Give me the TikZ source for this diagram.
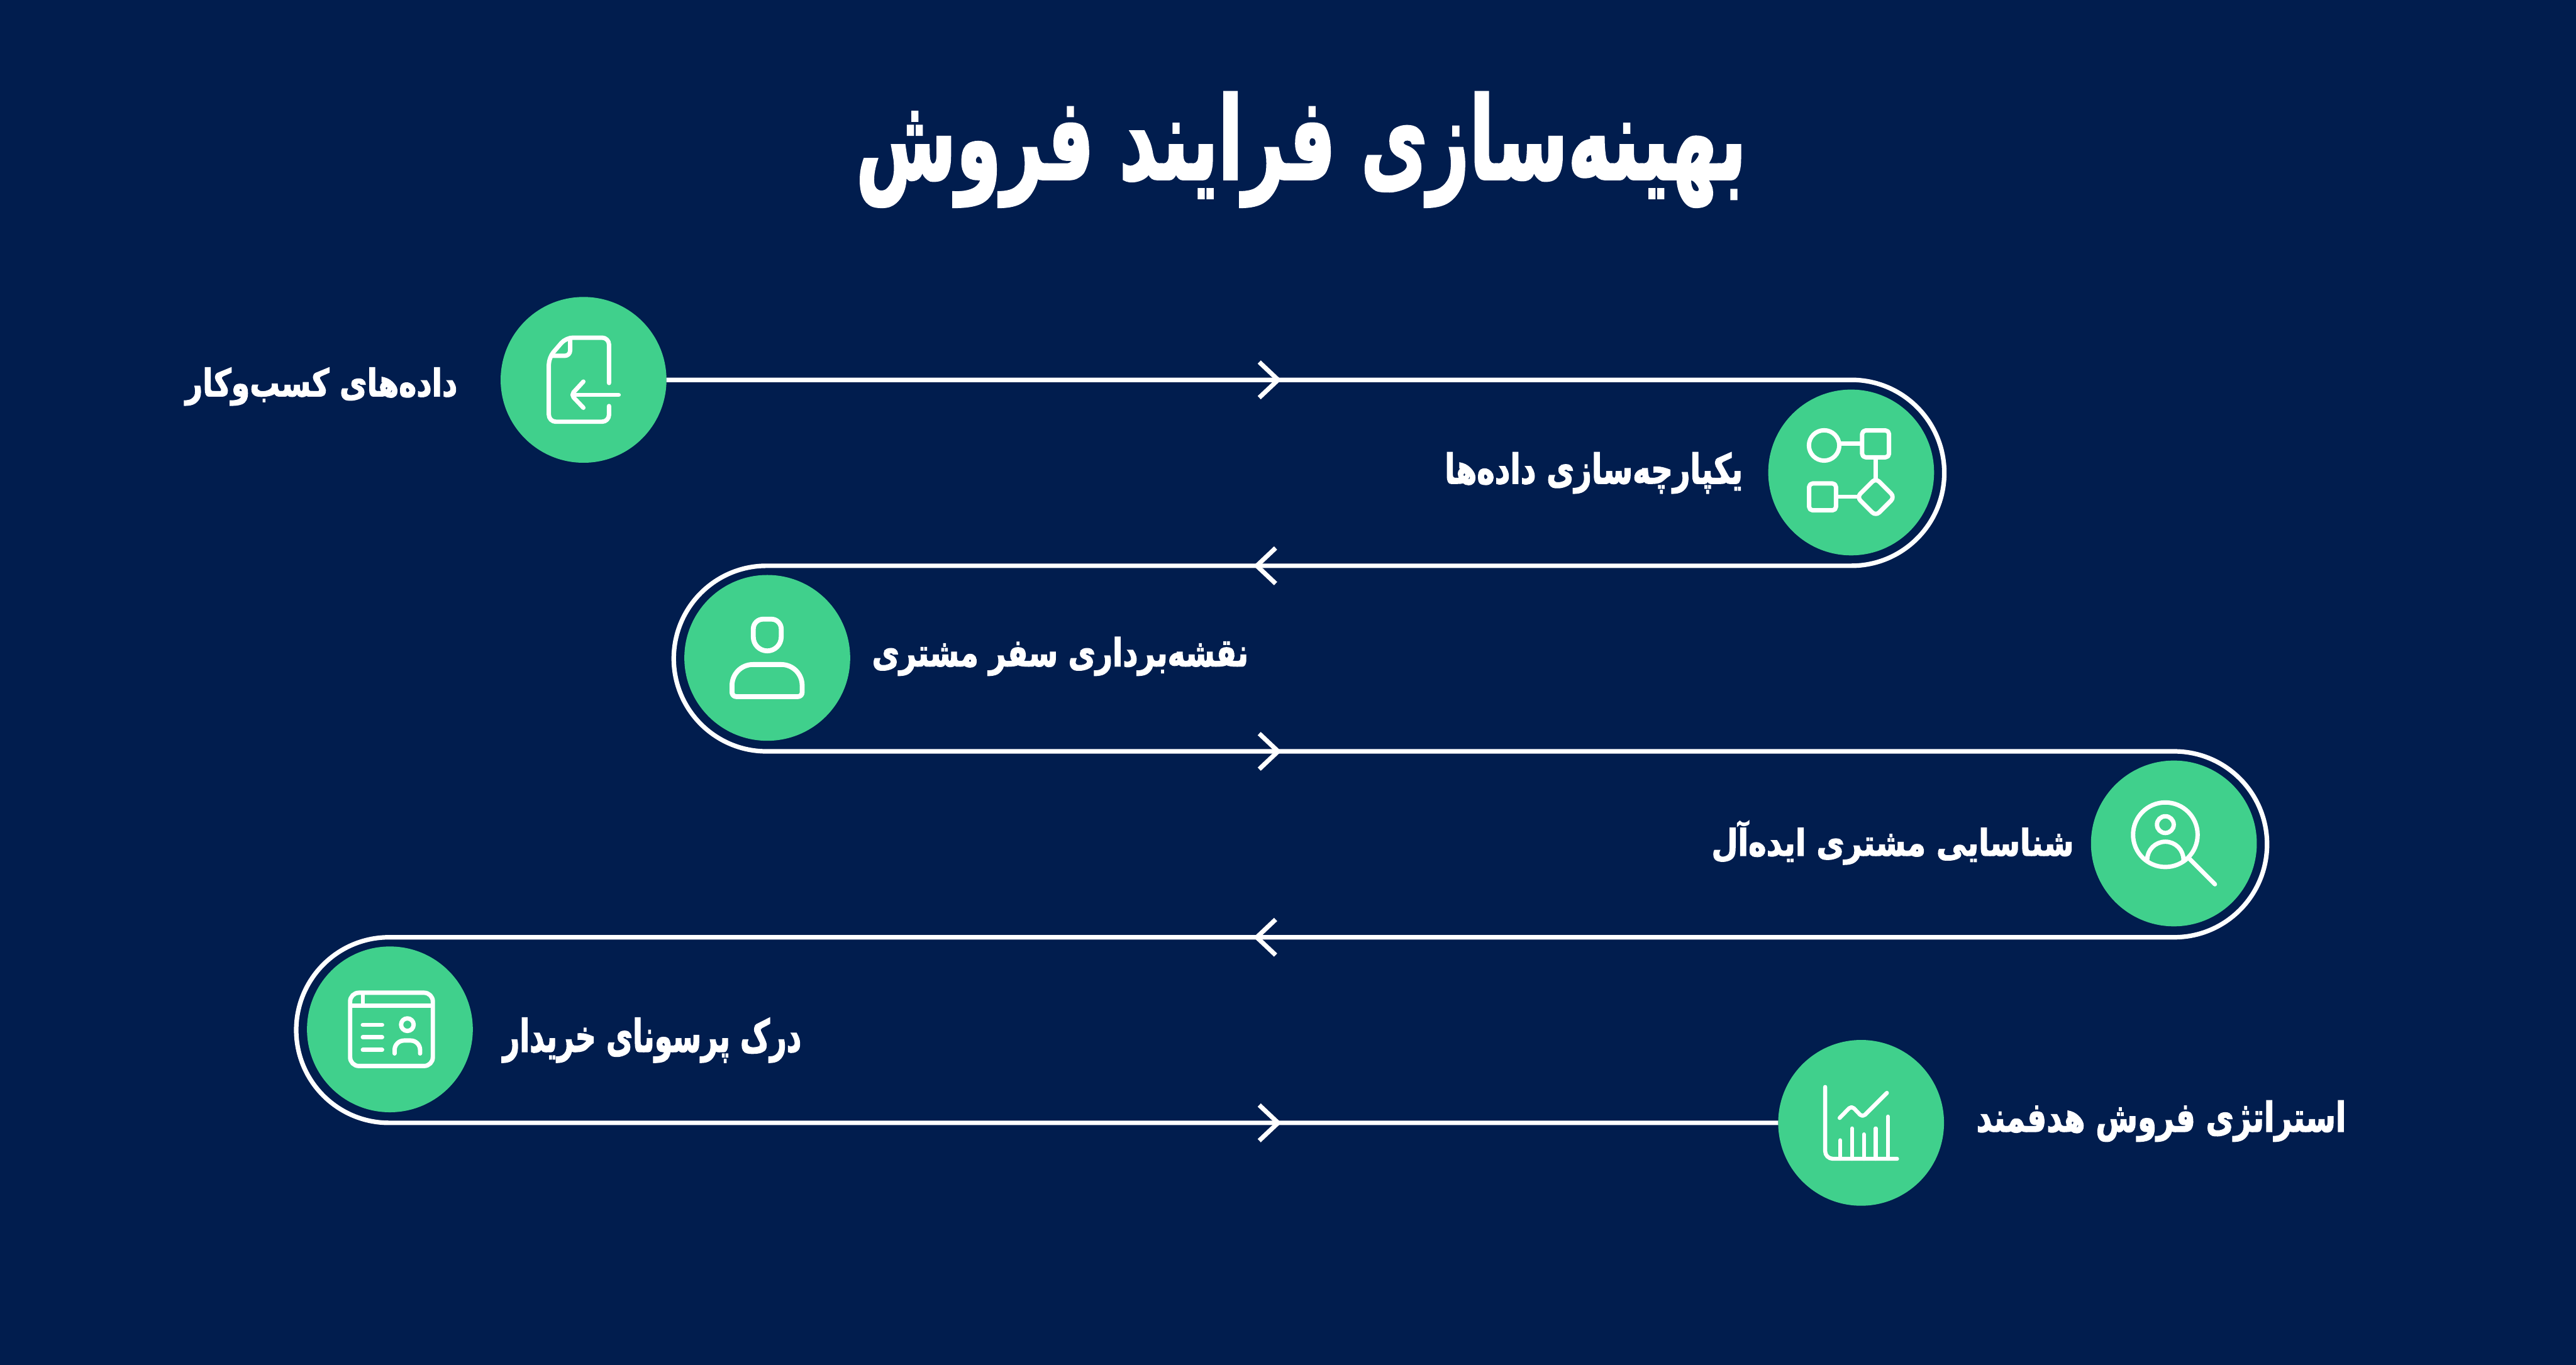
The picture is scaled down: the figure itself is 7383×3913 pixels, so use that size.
\documentclass[tikz,border=0pt]{standalone}
\usepackage{fontspec}
\usepackage{graphicx}
\TeXXeTstate=1
\newfontfamily\arabicfont[Script=Arabic,FakeBold=2.5]{DejaVu Sans Bold}
\definecolor{bgc}{HTML}{011D4E}
\definecolor{grn}{HTML}{40D08C}
\newcommand{\fa}[4]{\resizebox{#1}{#2}{\arabicfont\fontsize{#3}{#3}\selectfont #4}}
\tikzset{
  x=0.01cm,y=-0.01cm,
  stepdot/.style={circle,fill=grn,draw=none,minimum size=4.75cm,inner sep=0pt,outer sep=0pt},
  conn/.style={draw=white,line width=.13cm},
  chev/.style={draw=white,line width=.13cm,miter limit=10},
  ico/.style={draw=white,line width=.125cm,line cap=round,line join=round},
  label/.style={text=white,inner sep=0pt,outer sep=0pt,anchor=base east},
}
\begin{document}
\begin{tikzpicture}
\fill[bgc] (0,0) rectangle (7383,3913);
\useasboundingbox (0,0) rectangle (7383,3913);

% title
\node[label] (title) at (5005,513) {\fa{25.5cm}{2.48cm}{60pt}{\beginR بهینه‌سازی فرایند فروش\endR}};

% step circles
\node[stepdot] (c1) at (1672.5,1089) {};
\node[stepdot] (c2) at (5305.5,1354.5) {};
\node[stepdot] (c3) at (2199,1886) {};
\node[stepdot] (c4) at (6230.5,2418) {};
\node[stepdot] (c5) at (1117.5,2951) {};
\node[stepdot] (c6) at (5334,3219) {};

% serpentine connector turning points
\coordinate (t1) at (5306,1089);
\coordinate (t2) at (2197,1622);
\coordinate (t3) at (6231,2154);
\coordinate (t4) at (1115,2687);
\draw[conn] (c1.east) -- (t1) arc[start angle=-90,end angle=90,radius=266.5]
  -- (t2) arc[start angle=-90,end angle=-270,radius=266]
  -- (t3) arc[start angle=-90,end angle=90,radius=266.5]
  -- (t4) arc[start angle=-90,end angle=-270,radius=266]
  -- (c6.west);

% chevrons
\coordinate (a1) at (3663,1089);
\coordinate (a2) at (3602,1622);
\coordinate (a3) at (3663,2154);
\coordinate (a4) at (3602,2687);
\coordinate (a5) at (3663,3219);
\draw[chev] (a1) ++(-54,-51) -- (a1) -- ++(-54,51);
\draw[chev] (a2) ++(54,-51) -- (a2) -- ++(54,51);
\draw[chev] (a3) ++(-54,-51) -- (a3) -- ++(-54,51);
\draw[chev] (a4) ++(54,-51) -- (a4) -- ++(54,51);
\draw[chev] (a5) ++(-54,-51) -- (a5) -- ++(-54,51);

% labels
\node[label] (l1) at (1311,1136) {\fa{7.79cm}{.82cm}{27pt}{\beginR داده‌های کسب‌وکار\endR}};
\node[label] (l2) at (4995,1386) {\fa{8.54cm}{.89cm}{27pt}{\beginR یکپارچه‌سازی داده‌ها\endR}};
\node[label] (l3) at (3578,1910) {\fa{10.78cm}{.84cm}{27pt}{\beginR نقشه‌برداری سفر مشتری\endR}};
\node[label] (l4) at (5944,2453) {\fa{10.38cm}{1.0cm}{27pt}{\beginR شناسایی مشتری ایده‌آل\endR}};
\node[label] (l5) at (2297,3015) {\fa{8.55cm}{.97cm}{27pt}{\beginR درک پرسونای خریدار\endR}};
\node[label] (l6) at (6724,3244) {\fa{10.59cm}{.89cm}{27pt}{\beginR استراتژی فروش هدفمند\endR}};

% icon 1: file with arrow
\draw[ico,rounded corners=.2cm] (1745.5,1098) -- (1745.5,968) -- (1622,968) -- (1573,1025) -- (1573,1209) -- (1745.5,1209) -- (1745.5,1164);
\draw[ico,line cap=butt,rounded corners=.15cm] (1634,968) -- (1634,1020) -- (1582,1020);
\draw[ico] (1773,1132) -- (1642,1132);
\draw[ico,rounded corners=.1cm] (1672,1094) -- (1637,1132) -- (1672,1169);

% icon 2: flow
\draw[ico] (5228,1277) circle[radius=43.5];
\draw[ico,rounded corners=.1cm] (5337,1234) rectangle (5414,1311);
\draw[ico,rounded corners=.1cm] (5185,1386) rectangle (5262,1463);
\draw[ico,rounded corners=.14cm] (5376,1371) -- (5430,1425) -- (5376,1479) -- (5322,1425) -- cycle;
\draw[ico,line cap=butt] (5271,1272) -- (5337,1272);
\draw[ico,line cap=butt] (5376,1311) -- (5376,1372);
\draw[ico,line cap=butt] (5262,1424) -- (5324,1424);

% icon 3: user
\draw[ico,line width=.14cm] (2159,1826) -- (2159,1803) arc[start angle=180,end angle=270,radius=28]
  -- (2211,1775) arc[start angle=-90,end angle=0,radius=28] -- (2239,1826) arc[start angle=0,end angle=180,radius=40] -- cycle;
\draw[ico,line width=.14cm] (2098,1985) -- (2098,1965) arc[start angle=180,end angle=270,radius=60]
  -- (2239,1905) arc[start angle=-90,end angle=0,radius=60] -- (2299,1985) arc[start angle=0,end angle=90,radius=12]
  -- (2110,1997) arc[start angle=90,end angle=180,radius=12] -- cycle;

% icon 4: search user
\draw[ico] (6206,2393) circle[radius=92.5];
\draw[ico] (6206,2364) circle[radius=24];
\draw[ico] (6154,2465) arc[start angle=180,end angle=360,radius=52];
\draw[ico] (6275,2462) -- (6348,2535);

% icon 5: profile window
\draw[ico] (1003.5,2871) arc[start angle=180,end angle=270,radius=25] -- (1215.5,2846) arc[start angle=-90,end angle=0,radius=25]
  -- (1240.5,3031) arc[start angle=0,end angle=90,radius=25] -- (1028.5,3056) arc[start angle=90,end angle=180,radius=25] -- cycle;
\draw[ico,line cap=butt] (1003.5,2883) -- (1240.5,2883);
\draw[ico,line cap=butt] (1040,2846) -- (1040,2883);
\draw[ico] (1040,2938) -- (1095,2938);
\draw[ico] (1040,2973.5) -- (1095,2973.5);
\draw[ico] (1040,3010) -- (1095,3010);
\draw[ico] (1167.5,2937.5) circle[radius=18];
\draw[ico] (1131,3020) -- (1131,3010) arc[start angle=180,end angle=270,radius=27] -- (1177,2983) arc[start angle=-90,end angle=0,radius=27] -- (1204,3020);

% icon 6: chart
\draw[ico,line width=.115cm,rounded corners=.22cm] (5231,3116) -- (5231,3322) -- (5437,3322);
\draw[ico,line width=.115cm] (5274,3269) -- (5274,3322);
\draw[ico,line width=.115cm] (5308,3235) -- (5308,3322);
\draw[ico,line width=.115cm] (5342,3252) -- (5342,3322);
\draw[ico,line width=.115cm] (5376,3235) -- (5376,3322);
\draw[ico,line width=.115cm] (5411,3201) -- (5411,3322);
\draw[ico,line width=.115cm,rounded corners=.1cm] (5272.5,3205) -- (5306.5,3170) -- (5338,3203) -- (5408,3133);
\end{tikzpicture}
\end{document}
